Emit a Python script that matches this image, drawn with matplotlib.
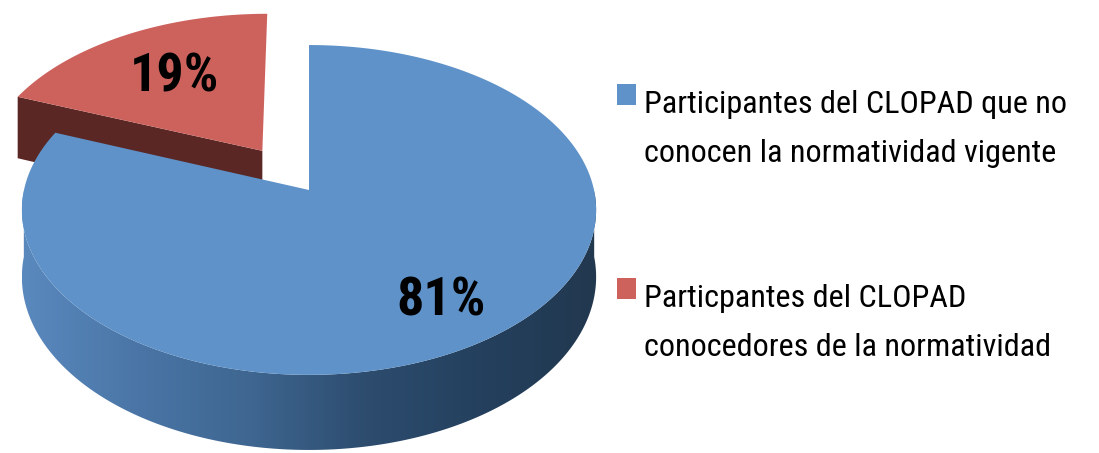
import numpy as np
import matplotlib
matplotlib.use("Agg")
import matplotlib.pyplot as plt
from matplotlib import font_manager, transforms as mtransforms
from matplotlib.path import Path
from matplotlib.patches import Polygon, Rectangle
from matplotlib.colors import LinearSegmentedColormap

# ---- data -------------------------------------------------------------
labels = ["Participantes del CLOPAD que no\nconocen la normatividad vigente",
          "Particpantes del CLOPAD\nconocedores de la normatividad"]
shares = [81, 19]
explode = [0.0, 0.3]

# ---- styling ----------------------------------------------------------
top_colors = ["#5E92C9", "#CD625D"]
face_colors = ["#2B4766", "#5A2724"]
side_stops = ["#5A89BE", "#4A75A6", "#3E6690", "#2D4C6E", "#24405E", "#22384F"]
label_dist = [0.76, 0.62]

W, H = 1099, 453
fig = plt.figure(figsize=(W / 100, H / 100), dpi=100)
ax = fig.add_axes([0, 0, 1, 1])

names = {f.name for f in font_manager.fontManager.ttflist}
narrow = dict(family="DejaVu Sans", stretch="condensed")
for cand in ("Liberation Sans Narrow", "Arial Narrow", "Roboto Condensed",
             "Open Sans Condensed"):
    if cand in names:
        narrow = dict(family=cand)
        break


class Tilt(mtransforms.Transform):
    """Projects the unit pie disc onto the page with a slight perspective."""
    input_dims = output_dims = 2
    is_separable = False
    has_inverse = False

    def __init__(self, cx, cy, a, b, c, drop=0.0):
        super().__init__()
        self.cx, self.cy, self.a, self.b, self.c, self.drop = cx, cy, a, b, c, drop

    def transform_non_affine(self, values):
        values = np.asarray(values, float).reshape(-1, 2)
        u, v = values[:, 0], values[:, 1]
        k = 1.0 / (1.0 + self.c * v)
        return np.column_stack([self.cx + self.a * u * k,
                                self.cy - self.b * v * k + self.drop * k])

    def transform_path_non_affine(self, path):
        pieces = [seg(np.linspace(0, 1, 40)) for seg, _ in path.iter_bezier()]
        return Path(self.transform_non_affine(np.concatenate(pieces)))


top = Tilt(309, 190, 285, 162.5, 0.121)
bottom = Tilt(309, 190, 285, 162.5, 0.121, drop=66)

wedges, texts, autotexts = ax.pie(
    shares, startangle=90, counterclock=False, explode=explode,
    colors=top_colors, autopct="%1.0f%%", pctdistance=0.7,
    wedgeprops=dict(linewidth=0))

side_cmap = LinearSegmentedColormap.from_list("side", side_stops)

# draw the slices from back to front
order = sorted(range(len(wedges)), key=lambda i: -wedges[i].center[1])
for rank, i in enumerate(order):
    w = wedges[i]
    (ux, vy), r = w.center, w.r
    t1, t2 = np.deg2rad(w.theta1), np.deg2rad(w.theta2)
    base = 10 * rank

    # radial cut faces that turn towards the viewer
    for phi, normal in ((t2, t2 + np.pi / 2), (t1, t1 - np.pi / 2)):
        if np.sin(normal) < -0.01:
            rim = np.array([[ux, vy], [ux + r * np.cos(phi), vy + r * np.sin(phi)]])
            pts = np.vstack([top.transform(rim), bottom.transform(rim[::-1])])
            ax.add_patch(Polygon(pts, closed=True, facecolor=face_colors[i],
                                 edgecolor="none", zorder=base + 1))

    # curved outer wall on the front half
    ang = np.linspace(t1, t2, 721)
    ang = ang[np.sin(ang) <= 0]
    if ang.size > 1:
        rim = np.column_stack([ux + r * np.cos(ang), vy + r * np.sin(ang)])
        pts = np.vstack([top.transform(rim), bottom.transform(rim[::-1])])
        wall = Polygon(pts, closed=True, facecolor="none", edgecolor="none",
                       transform=ax.transData)
        ax.add_patch(wall)
        x0, x1 = pts[:, 0].min(), pts[:, 0].max()
        y0, y1 = pts[:, 1].min(), pts[:, 1].max()
        grad = np.linspace(0, 1, 256)[None, :]
        im = ax.imshow(grad, cmap=side_cmap, extent=(x0, x1, y1, y0),
                       aspect="auto", interpolation="bilinear", zorder=base + 2)
        im.set_clip_path(wall)

    w.set_transform(top + ax.transData)
    w.set_zorder(base + 3)

    # percentage label along the slice bisector
    mid = np.deg2rad((w.theta1 + w.theta2) / 2)
    pos = np.array([[ux + r * label_dist[i] * np.cos(mid),
                     vy + r * label_dist[i] * np.sin(mid)]])
    t = autotexts[i]
    t.set_position(top.transform(pos)[0])
    t.set(fontsize=39, fontweight="bold", color="black", ha="center",
          va="center", zorder=50, **narrow)

for t in texts:
    t.set_visible(False)

ax.set_xlim(0, W)
ax.set_ylim(H, 0)
ax.set_aspect("auto")
ax.axis("off")

# ---- legend ------------------------------------------------------------
entry_tops = [113, 307]      # baseline of the first line of each entry (px)
pitch = 49
for i, (lab, col) in enumerate(zip(labels, top_colors)):
    y0 = entry_tops[i]
    fig.patches.append(Rectangle((617 / W, 1 - (y0 - 8) / H), 19 / W, 21 / H,
                                 transform=fig.transFigure, facecolor=col,
                                 edgecolor="none"))
    for j, line in enumerate(lab.split("\n")):
        fig.text(644 / W, 1 - (y0 + j * pitch) / H, line, fontsize=23.2,
                 color="black", ha="left", va="baseline", **narrow)

fig.savefig("out.png", dpi=100, facecolor="white")
